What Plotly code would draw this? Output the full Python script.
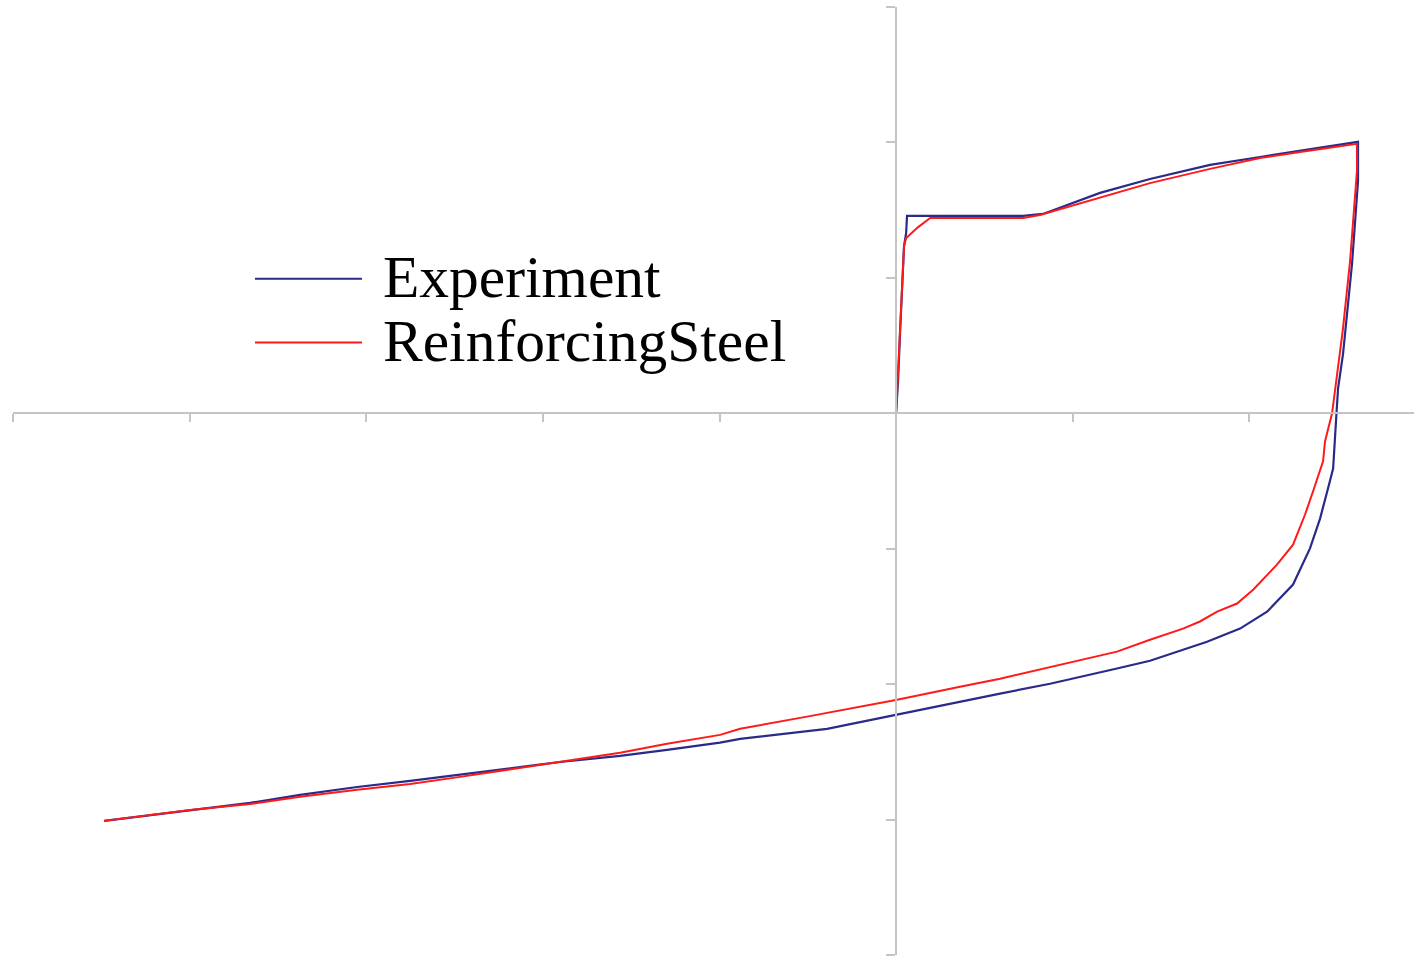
import plotly.graph_objects as go

# Cyclic stress-strain response of a reinforcing bar: test vs. ReinforcingSteel model
# strain in %, stress in ksi

exp_strain = [0.0, 0.011, 0.023, 0.034, 0.045, 0.057, 0.062, 0.164, 0.306, 0.447, 0.589,
              0.719, 0.832, 0.985, 1.155, 1.438, 1.778, 2.061, 2.288, 2.458, 2.616,
              2.616, 2.582, 2.531, 2.503, 2.494, 2.486, 2.475, 2.446, 2.401, 2.344,
              2.248, 2.101, 1.948, 1.761, 1.552, 1.438, 1.251, 0.872, 0.589, 0.306,
              0.006, -0.391, -0.883, -0.997, -1.297, -1.563, -1.903, -2.469, -2.752,
              -3.052, -3.375, -3.658, -3.998, -4.485]
exp_stress = [0.0, 9.5, 24.3, 37.6, 49.4, 53.3, 58.3, 58.3, 58.3, 58.3, 58.3,
              58.3, 58.9, 61.8, 65.1, 69.2, 73.4, 75.7, 77.5, 79.0, 80.2,
              68.6, 44.1, 17.5, 7.4, 0.0, -7.4, -16.3, -22.2, -31.1, -39.9,
              -50.6, -58.6, -63.6, -67.5, -71.0, -73.1, -75.4, -79.9, -82.8, -85.8,
              -89.1, -93.2, -96.2, -97.3, -99.4, -101.2, -103.0, -106.8, -108.6,
              -110.4, -112.7, -115.1, -117.2, -120.4]

model_strain = [0.0, 0.011, 0.023, 0.034, 0.045, 0.057, 0.125, 0.193, 0.362, 0.589, 0.719,
                0.815, 0.985, 1.155, 1.438, 1.778, 2.061, 2.288, 2.458, 2.610,
                2.610, 2.571, 2.531, 2.497, 2.475, 2.469, 2.429, 2.418, 2.361, 2.316,
                2.248, 2.157, 2.022, 1.931, 1.818, 1.721, 1.625, 1.535, 1.438, 1.251,
                0.872, 0.589, 0.362, 0.006, -0.504, -0.883, -0.997, -1.297, -1.563,
                -1.903, -2.469, -2.752, -3.052, -3.375, -3.658, -3.998, -4.485]
model_stress = [0.0, 12.4, 27.2, 39.1, 49.4, 51.8, 55.0, 57.7, 57.7, 57.7, 57.7,
                58.6, 61.2, 63.9, 68.0, 72.2, 75.4, 77.2, 78.4, 79.6,
                71.6, 45.0, 25.1, 10.4, 2.1, 0.0, -8.3, -14.2, -23.1, -29.9,
                -38.8, -44.7, -52.1, -56.2, -58.6, -61.5, -63.6, -65.1, -66.9, -70.4,
                -75.1, -78.4, -80.8, -84.6, -89.6, -93.2, -95.0, -97.6, -100.3,
                -103.0, -107.4, -109.5, -111.2, -113.3, -115.4, -117.2, -120.4]

series_names = ["Experiment", "ReinforcingSteel"]
series_colors = ["#2a2a88", "#ff1a1a"]

X_RANGE = [-5.001, 2.933]
Y_RANGE = [-160.02, 120.02]
AXIS_GREY = "#c4c4c4"

fig = go.Figure()
fig.add_trace(go.Scatter(x=exp_strain, y=exp_stress, mode="lines", name=series_names[0],
                         line=dict(color=series_colors[0], width=2.2)))
fig.add_trace(go.Scatter(x=model_strain, y=model_stress, mode="lines", name=series_names[1],
                         line=dict(color=series_colors[1], width=2)))

# axes cross at the origin
x_axis_pos = (0 - Y_RANGE[0]) / (Y_RANGE[1] - Y_RANGE[0])
y_axis_pos = (0 - X_RANGE[0]) / (X_RANGE[1] - X_RANGE[0])

fig.update_layout(
    width=1414, height=956,
    margin=dict(l=13, r=0, t=7, b=1),
    paper_bgcolor="white", plot_bgcolor="white",
    showlegend=False,
    xaxis=dict(range=X_RANGE, dtick=1, tick0=0, showgrid=False, zeroline=False,
               showline=True, linecolor=AXIS_GREY, linewidth=1.5,
               ticks="outside", ticklen=8, tickwidth=1.5, tickcolor=AXIS_GREY,
               showticklabels=False, anchor="free", position=x_axis_pos),
    yaxis=dict(range=Y_RANGE, dtick=40, tick0=0, showgrid=False, zeroline=False,
               showline=True, linecolor=AXIS_GREY, linewidth=1.5,
               ticks="outside", ticklen=9, tickwidth=1.5, tickcolor=AXIS_GREY,
               showticklabels=False, anchor="free", position=y_axis_pos),
)

# legend block drawn on the paper
legend_rows_y = [0.7133, 0.6462]
for name, color, ly in zip(series_names, series_colors, legend_rows_y):
    fig.add_shape(type="line", xref="paper", yref="paper",
                  x0=0.1727, x1=0.2491, y0=ly, y1=ly,
                  line=dict(color=color, width=2))
    fig.add_annotation(xref="paper", yref="paper", x=0.2627, y=ly + 0.002,
                       xanchor="left", yanchor="middle", showarrow=False,
                       text=name,
                       font=dict(family="Liberation Serif, Times New Roman, serif",
                                 size=59.5, color="black"))

fig.write_html("out.html")
